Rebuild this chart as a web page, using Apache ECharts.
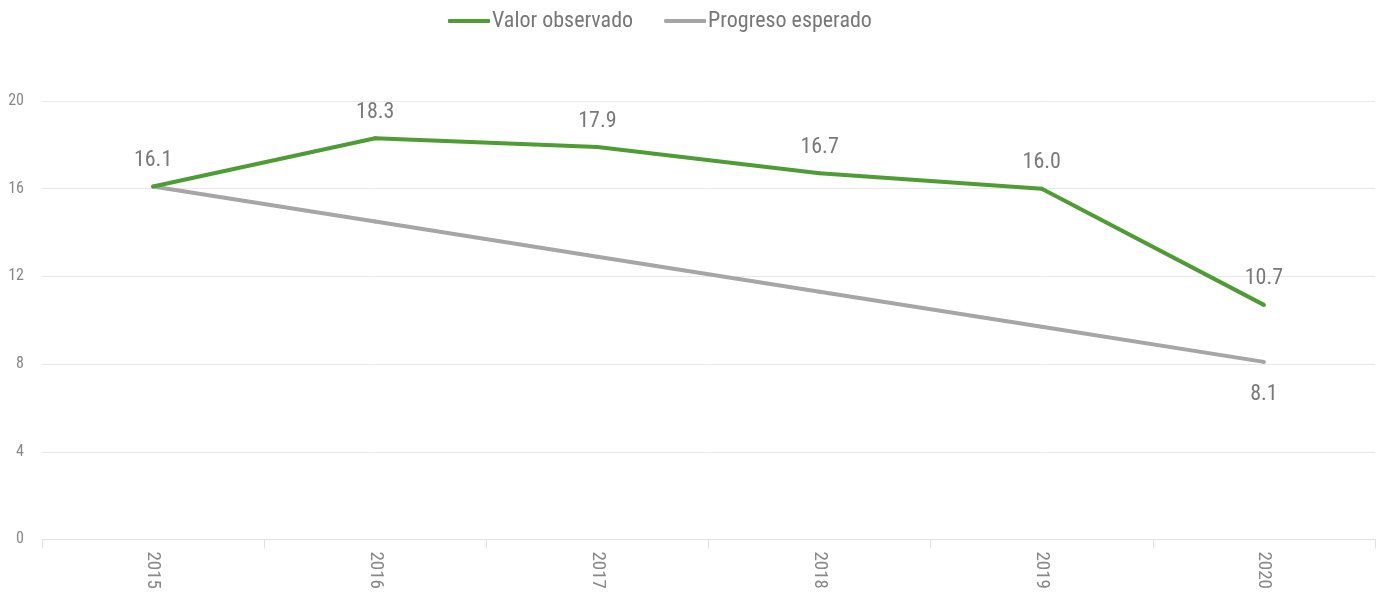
<!DOCTYPE html>
<html>
<head>
<meta charset="utf-8">
<script src="https://cdn.jsdelivr.net/npm/echarts@6/dist/echarts.min.js"></script>
<style>
  html, body { margin: 0; padding: 0; background: #fff; }
  #chart { width: 1383px; height: 592px; }
</style>
</head>
<body>
<div id="chart"></div>
<script>
var years = ['2015', '2016', '2017', '2018', '2019', '2020'];
var observado = [16.1, 18.3, 17.9, 16.7, 16.0, 10.7];
var esperado = [16.1, 14.5, 12.9, 11.3, 9.7, 8.1];

var font = '"Liberation Sans Narrow", "Roboto Condensed", Roboto, sans-serif';

var chart = echarts.init(document.getElementById('chart'));

chart.setOption({
  animation: false,
  textStyle: { fontFamily: font },
  legend: {
    top: 10,
    left: 448,
    padding: 0,
    itemWidth: 42,
    itemHeight: 4,
    itemGap: 31,
    icon: 'roundRect',
    textStyle: { fontSize: 22, color: '#777', fontFamily: font, padding: [0, 0, 0, -3] },
    data: ['Valor observado', 'Progreso esperado']
  },
  grid: { left: 42, right: 8, top: 101, bottom: 52, containLabel: false },
  xAxis: {
    type: 'category',
    boundaryGap: true,
    data: years,
    axisLine: { lineStyle: { color: '#dde0e6', width: 1 } },
    axisTick: { show: true, length: 9, lineStyle: { color: '#dde0e6' } },
    axisLabel: { rotate: -90, color: '#888', fontSize: 19, margin: 12, fontFamily: font }
  },
  yAxis: {
    type: 'value',
    min: 0,
    max: 20,
    interval: 4,
    axisLine: { show: false },
    axisTick: { show: false },
    axisLabel: { color: '#888', fontSize: 16, margin: 18, fontFamily: font },
    splitLine: { lineStyle: { color: '#e6e8ec', width: 1 } }
  },
  series: [
    {
      name: 'Progreso esperado',
      type: 'line',
      data: esperado.map(function (v, i) {
        return i === esperado.length - 1
          ? { value: v, label: { show: true, position: 'bottom', distance: 20 } }
          : v;
      }),
      symbol: 'circle',
      symbolSize: 4,
      showSymbol: true,
      lineStyle: { color: '#a6a6a6', width: 4 },
      itemStyle: { color: '#a6a6a6' },
      label: {
        show: false,
        color: '#7a7a7a',
        fontSize: 22,
        fontFamily: font,
        formatter: function (p) { return p.value.toFixed(1); }
      }
    },
    {
      name: 'Valor observado',
      type: 'line',
      data: observado,
      symbol: 'circle',
      symbolSize: 4,
      showSymbol: true,
      lineStyle: { color: '#4e9c34', width: 4 },
      itemStyle: { color: '#4e9c34' },
      label: {
        show: true,
        position: 'top',
        distance: 13,
        color: '#7a7a7a',
        fontSize: 22,
        fontFamily: font,
        formatter: function (p) { return p.value.toFixed(1); }
      }
    }
  ]
});
</script>
</body>
</html>
